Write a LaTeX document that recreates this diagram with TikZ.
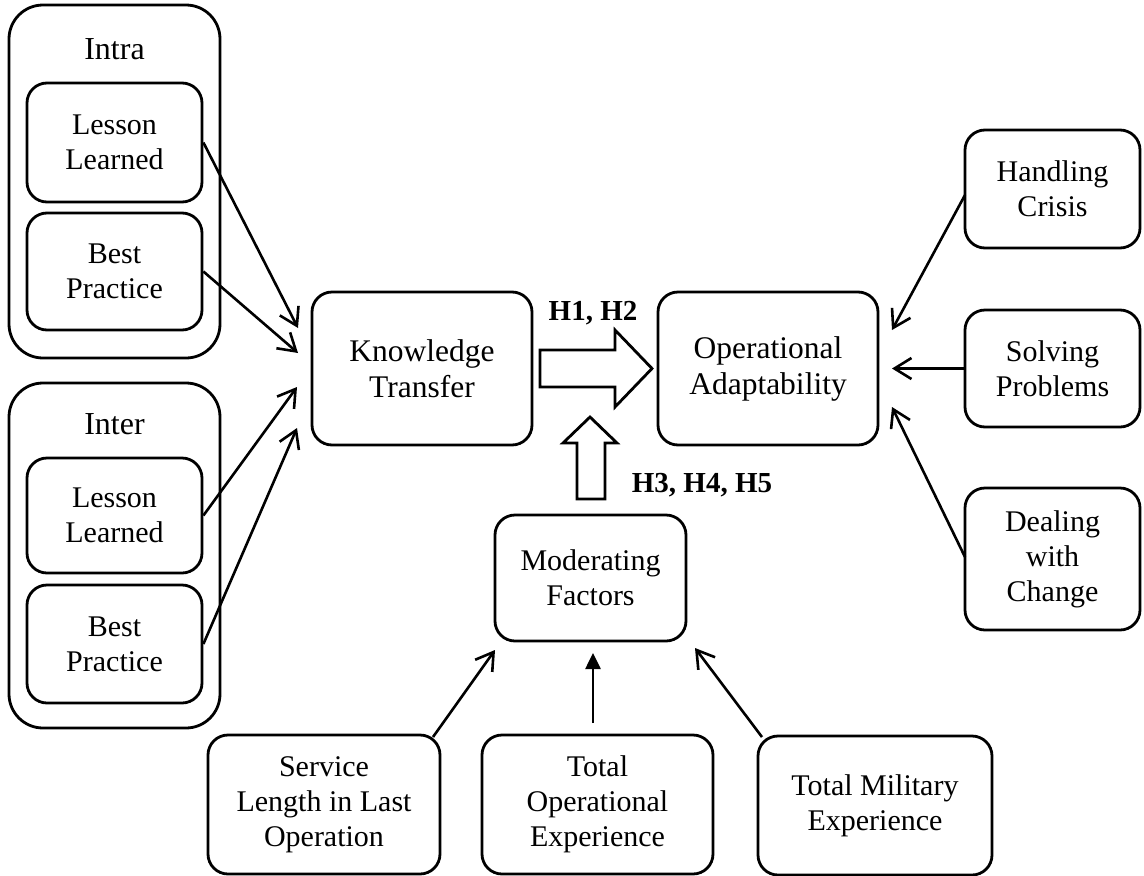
\documentclass[tikz,border=0pt]{standalone}
\usepackage{fontspec}
\setmainfont{Liberation Serif}
\usetikzlibrary{arrows.meta}
\begin{document}
\begin{tikzpicture}[x=1pt,y=-1pt,
  txt/.style={font=\fontsize{32}{36}\selectfont, align=center, inner sep=0pt},
  rbox/.style={draw, line width=2.8pt, rounded corners=20pt, inner sep=0pt, font=\fontsize{30}{35}\selectfont, align=center},
  bigtxt/.style={font=\fontsize{31.5}{36}\selectfont},
  obox/.style={draw, line width=2.8pt, rounded corners=34pt, inner sep=0pt},
  conn/.style={line width=2.6pt, -{Straight Barb[length=17pt,width=21pt]}},
  fconn/.style={line width=2.6pt, -{Triangle[length=16pt,width=15pt]}},
  blk/.style={draw, line width=2.8pt, fill=white, line join=miter},
  hlab/.style={font=\fontsize{29}{34}\selectfont\bfseries, inner sep=0pt}
]
\useasboundingbox (0,0) rectangle (1144,876);

% left groups
\node[obox, minimum width=211pt, minimum height=353pt] (intra) at (114.5,181.5) {};
\node[txt] (intraT) at (114.5,49) {Intra};
\node[rbox, minimum width=175pt, minimum height=119pt] (intraLL) at (114.5,142.5) {Lesson\\Learned};
\node[rbox, minimum width=175pt, minimum height=117pt] (intraBP) at (114.5,271.5) {Best\\Practice};

\node[obox, minimum width=211pt, minimum height=345pt] (inter) at (114.5,555.5) {};
\node[txt] (interT) at (114.5,424) {Inter};
\node[rbox, minimum width=175pt, minimum height=115pt] (interLL) at (114.5,515.5) {Lesson\\Learned};
\node[rbox, minimum width=175pt, minimum height=118pt] (interBP) at (114.5,644) {Best\\Practice};

% central
\node[rbox, bigtxt, minimum width=220pt, minimum height=153pt] (KT) at (422,368.5) {Knowledge\\Transfer};
\node[rbox, bigtxt, minimum width=220pt, minimum height=153pt] (OA) at (768,368.5) {Operational\\Adaptability};
\node[rbox, minimum width=191pt, minimum height=126pt] (MF) at (590.5,578) {Moderating\\Factors};

% right
\node[rbox, minimum width=175pt, minimum height=118pt] (HC) at (1052.5,189) {Handling\\Crisis};
\node[rbox, minimum width=175pt, minimum height=117pt] (SP) at (1052.5,368.5) {Solving\\Problems};
\node[rbox, minimum width=175pt, minimum height=142pt] (DC) at (1052.5,559) {Dealing\\with\\Change};

% bottom
\node[rbox, minimum width=232pt, minimum height=139pt] (SL) at (324,804.5) {Service\\Length in Last\\Operation};
\node[rbox, minimum width=231pt, minimum height=139pt] (TOE) at (597.5,804.5) {Total\\Operational\\Experience};
\node[rbox, minimum width=234pt, minimum height=139pt] (TME) at (875,805.5) {Total Military\\Experience};

% arrow end coordinates
\coordinate (t1) at (298,328);
\coordinate (t2) at (298,353);
\coordinate (t3) at (297,387);
\coordinate (t4) at (297,428);
\coordinate (r1) at (892,330);
\coordinate (r2) at (892,368.5);
\coordinate (r3) at (892,407);
\coordinate (s1) at (433,737);
\coordinate (b1) at (495,650);
\coordinate (s2) at (593,723);
\coordinate (b2) at (593,653);
\coordinate (s3) at (762,737);
\coordinate (b3) at (695,648);
\coordinate (hc) at (965,195);
\coordinate (dc) at (965,557);

\draw[conn] (intraLL.east) -- (t1);
\draw[conn] (intraBP.east) -- (t2);
\draw[conn] (interLL.east) -- (t3);
\draw[conn] (interBP.east) -- (t4);

\draw[conn] (hc) -- (r1);
\draw[conn] (SP.west) -- (r2);
\draw[conn] (dc) -- (r3);

\draw[conn] (s1) -- (b1);
\draw[fconn] (s2) -- (b2);
\draw[conn] (s3) -- (b3);

% block arrows
\draw[blk] (540,350) -- (615,350) -- (615,330) -- (652,368.5) -- (615,407) -- (615,387) -- (540,387) -- cycle;
\draw[blk] (577,499) -- (577,443) -- (563,443) -- (590,417) -- (617,443) -- (605,443) -- (605,499) -- cycle;

\node[hlab] (h12) at (593,313) {H1, H2};
\node[hlab] (h345) at (702,485) {H3, H4, H5};
\end{tikzpicture}
\end{document}
